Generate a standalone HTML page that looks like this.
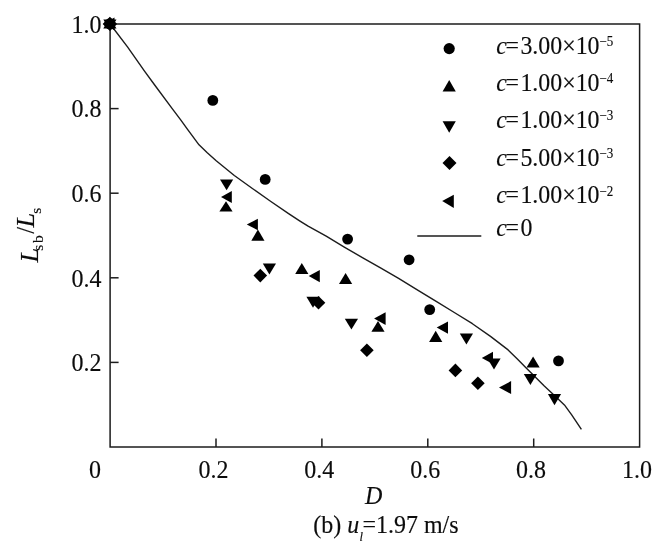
<!DOCTYPE html>
<html><head><meta charset="utf-8"><title>chart</title>
<style>
html,body{margin:0;padding:0;background:#fff;}
body{width:663px;height:555px;overflow:hidden;font-family:"Liberation Serif",serif;}
svg{display:block;filter:blur(0.32px);}
text{font-family:"Liberation Serif",serif;fill:#0c0c0c;stroke:#0c0c0c;stroke-width:0.14px;}
.i{font-style:italic;}
</style></head><body>
<svg width="663" height="555" viewBox="0 0 663 555">
<rect x="0" y="0" width="663" height="555" fill="#fff"/>

<rect x="110.1" y="24.0" width="529.5" height="423.0" fill="none" stroke="#1c1c1c" stroke-width="1.5"/>
<g stroke="#1c1c1c" stroke-width="1.5" fill="none">
<line x1="216.0" y1="447.0" x2="216.0" y2="438.5"/>
<line x1="110.1" y1="362.4" x2="118.6" y2="362.4"/>
<line x1="321.9" y1="447.0" x2="321.9" y2="438.5"/>
<line x1="110.1" y1="277.8" x2="118.6" y2="277.8"/>
<line x1="427.8" y1="447.0" x2="427.8" y2="438.5"/>
<line x1="110.1" y1="193.2" x2="118.6" y2="193.2"/>
<line x1="533.7" y1="447.0" x2="533.7" y2="438.5"/>
<line x1="110.1" y1="108.6" x2="118.6" y2="108.6"/>
</g>
<polyline points="110.1,24.0 127.5,46.9 144.7,71.4 154.3,84.5 172.4,108.8 180.5,119.6 188.1,130.2 199.0,144.8 207.0,152.6 216.2,160.8 234.3,175.5 252.4,188.5 270.5,201.3 288.6,213.6 300.0,221.1 308.1,226.2 326.2,236.2 344.3,247.1 362.4,257.6 380.5,267.9 398.6,278.4 418.1,290.4 436.2,301.3 454.3,312.5 472.4,323.7 490.5,336.4 508.1,349.9 517.6,359.2 526.2,368.0 544.3,386.1 557.6,398.6 564.4,404.9 571.7,414.9 581.4,429.3" fill="none" stroke="#1c1c1c" stroke-width="1.4" stroke-linejoin="round"/>
<line x1="417.3" y1="235.9" x2="481.3" y2="235.9" stroke="#1c1c1c" stroke-width="1.5"/>
<g fill="#000">
<circle cx="212.8" cy="100.4" r="5.4"/>
<circle cx="265.2" cy="179.4" r="5.4"/>
<circle cx="347.6" cy="239.1" r="5.4"/>
<circle cx="409.1" cy="259.8" r="5.4"/>
<circle cx="429.7" cy="309.6" r="5.4"/>
<circle cx="558.5" cy="360.9" r="5.4"/>
<polygon points="226.0,201.2 219.4,211.5 232.6,211.5"/>
<polygon points="257.9,229.4 251.3,240.8 264.5,240.8"/>
<polygon points="301.8,263.1 295.2,273.9 308.4,273.9"/>
<polygon points="345.6,273.1 339.0,283.9 352.2,283.9"/>
<polygon points="378.0,321.0 371.4,331.7 384.6,331.7"/>
<polygon points="435.7,330.8 429.1,341.9 442.3,341.9"/>
<polygon points="533.1,356.4 526.5,367.5 539.7,367.5"/>
<polygon points="220.0,179.4 233.2,179.4 226.6,190.3"/>
<polygon points="262.8,263.5 276.0,263.5 269.4,274.6"/>
<polygon points="306.4,296.8 319.6,296.8 313.0,307.7"/>
<polygon points="344.8,318.8 358.0,318.8 351.4,329.6"/>
<polygon points="459.8,333.4 473.0,333.4 466.4,344.4"/>
<polygon points="487.4,358.5 500.6,358.5 494.0,369.6"/>
<polygon points="523.8,373.9 537.0,373.9 530.4,385.0"/>
<polygon points="547.9,394.1 561.1,394.1 554.5,405.2"/>
<polygon points="221.0,197.0 231.8,191.0 231.8,203.0"/>
<polygon points="246.8,224.6 257.9,218.8 257.9,230.3"/>
<polygon points="308.7,276.0 319.8,270.1 319.8,282.3"/>
<polygon points="374.1,318.6 385.6,312.3 385.6,325.0"/>
<polygon points="436.7,327.5 448.0,321.4 448.0,333.8"/>
<polygon points="481.8,357.9 493.0,351.8 493.0,363.9"/>
<polygon points="499.0,387.5 511.1,381.1 511.1,394.1"/>
<polygon points="260.3,268.8 267.1,275.6 260.3,282.4 253.5,275.6"/>
<polygon points="318.5,296.0 325.3,302.8 318.5,309.6 311.7,302.8"/>
<polygon points="366.9,343.5 373.7,350.3 366.9,357.1 360.1,350.3"/>
<polygon points="455.4,363.6 462.2,370.4 455.4,377.2 448.6,370.4"/>
<polygon points="477.9,376.4 484.7,383.2 477.9,390.0 471.1,383.2"/>
<circle cx="109.9" cy="23.9" r="5.6"/>
<polygon points="109.9,17.2 103.3,28.4 116.5,28.4"/>
<polygon points="103.3,19.4 116.5,19.4 109.9,30.6"/>
<polygon points="109.9,16.7 117.1,23.9 109.9,31.1 102.7,23.9"/>
<polygon points="103.0,23.9 114.5,17.5 114.5,30.3"/>
<circle cx="449.2" cy="48.6" r="5.6"/>
<polygon points="449.2,80.1 442.6,91.4 455.8,91.4"/>
<polygon points="442.6,121.3 455.8,121.3 449.2,132.8"/>
<polygon points="449.5,155.9 456.5,162.9 449.5,169.9 442.5,162.9"/>
<polygon points="442.2,200.9 453.8,194.7 453.8,207.9"/>
</g>
<text transform="translate(101.6,32.7) scale(1,1.065)" font-size="24" text-anchor="end">1.0</text>
<text transform="translate(101.6,117.3) scale(1,1.065)" font-size="24" text-anchor="end">0.8</text>
<text transform="translate(101.6,201.9) scale(1,1.065)" font-size="24" text-anchor="end">0.6</text>
<text transform="translate(101.6,286.5) scale(1,1.065)" font-size="24" text-anchor="end">0.4</text>
<text transform="translate(101.6,371.1) scale(1,1.065)" font-size="24" text-anchor="end">0.2</text>
<text transform="translate(95.0,478.2) scale(1,1.065)" font-size="24" text-anchor="middle">0</text>
<text transform="translate(213.4,478.2) scale(1,1.065)" font-size="24" text-anchor="middle">0.2</text>
<text transform="translate(319.3,478.2) scale(1,1.065)" font-size="24" text-anchor="middle">0.4</text>
<text transform="translate(425.2,478.2) scale(1,1.065)" font-size="24" text-anchor="middle">0.6</text>
<text transform="translate(531.1,478.2) scale(1,1.065)" font-size="24" text-anchor="middle">0.8</text>
<text transform="translate(637.0,478.2) scale(1,1.065)" font-size="24" text-anchor="middle">1.0</text>
<text transform="translate(365.0,504.0) scale(1,1.065)" font-size="24" class="i">D</text>
<text transform="translate(313.3,533.2) scale(1,1.065)" font-size="24">(b) <tspan class="i">u</tspan><tspan class="i" font-size="12.5" dy="7.4" dx="0.3">l</tspan><tspan dy="-7.4" dx="-0.6">=1.97 m/s</tspan></text>
<text transform="translate(37.7,262.5) rotate(-90) scale(1.08,1.07)" font-size="24.5" class="i">L</text>
<text transform="translate(42.6,250.7) rotate(-90) scale(1.0,1.0)" font-size="15.5">s</text>
<text transform="translate(42.8,243.1) rotate(-90) scale(1.0,1.0)" font-size="15.5">b</text>
<text transform="translate(34.0,233.7) rotate(-90) scale(1.0,1.0)" font-size="24.5">/</text>
<text transform="translate(34.4,227.4) rotate(-90) scale(1.08,1.07)" font-size="24.5" class="i">L</text>
<text transform="translate(41.1,213.7) rotate(-90) scale(1.0,1.0)" font-size="15.5">s</text>
<text transform="translate(496.3,53.6) scale(1,1.065)" font-size="23.9"><tspan class="i">c</tspan><tspan dx="-1.3">=</tspan><tspan dx="1.3">3.00×10</tspan><tspan font-size="13" dy="-7.0">−5</tspan></text>
<text transform="translate(496.3,90.8) scale(1,1.065)" font-size="23.9"><tspan class="i">c</tspan><tspan dx="-1.3">=</tspan><tspan dx="1.3">1.00×10</tspan><tspan font-size="13" dy="-7.0">−4</tspan></text>
<text transform="translate(496.3,127.7) scale(1,1.065)" font-size="23.9"><tspan class="i">c</tspan><tspan dx="-1.3">=</tspan><tspan dx="1.3">1.00×10</tspan><tspan font-size="13" dy="-7.0">−3</tspan></text>
<text transform="translate(496.3,165.8) scale(1,1.065)" font-size="23.9"><tspan class="i">c</tspan><tspan dx="-1.3">=</tspan><tspan dx="1.3">5.00×10</tspan><tspan font-size="13" dy="-7.0">−3</tspan></text>
<text transform="translate(496.3,203.3) scale(1,1.065)" font-size="23.9"><tspan class="i">c</tspan><tspan dx="-1.3">=</tspan><tspan dx="1.3">1.00×10</tspan><tspan font-size="13" dy="-7.0">−2</tspan></text>
<text transform="translate(496.3,235.9) scale(1,1.065)" font-size="23.9"><tspan class="i">c</tspan><tspan dx="-1.3">=</tspan><tspan dx="1.3">0</tspan></text>
</svg></body></html>
